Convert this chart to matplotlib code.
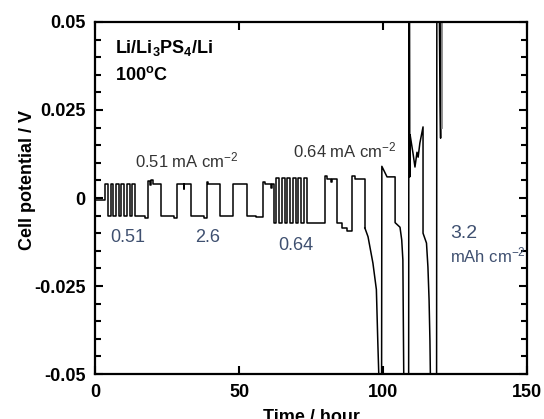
import matplotlib
matplotlib.use("Agg")
import matplotlib.pyplot as plt
from matplotlib.ticker import MultipleLocator

plt.rcParams['font.family'] = ['Liberation Sans', 'DejaVu Sans']
plt.rcParams['mathtext.fontset'] = 'custom'
plt.rcParams['mathtext.rm'] = 'Liberation Sans'
plt.rcParams['mathtext.bf'] = 'Liberation Sans:bold'
plt.rcParams['mathtext.default'] = 'regular'

# square-wave part of the trace (step-post: value holds until the next time)
sq_t = [0, 3.5, 4.4, 5.4, 6.3, 7.3, 8.2, 9.2, 10.1, 11.1, 12.0, 13.0, 13.9, 17.2,
        18.5, 19.0, 19.6, 20.2, 22.8, 27.3, 28.4, 30.8, 31.0, 33.3, 37.8,
        38.8, 39.3, 43.4, 47.9, 52.7, 56.0, 58.3, 59.0, 61.2, 61.4,
        62.2, 63.0, 63.95, 64.9, 65.85, 66.8, 67.75, 68.7, 69.65, 70.6, 71.55, 72.5, 73.5,
        79.9, 80.5, 82.0, 82.2, 84.0, 85.8, 87.5, 89.3, 90.3, 93.7]
sq_v = [-0.0005, 0.004, -0.005, 0.004, -0.005, 0.004, -0.005, 0.004, -0.005, 0.004, -0.005, 0.004, -0.005, -0.0058,
        0.0048, 0.0038, 0.005, 0.004, -0.005, -0.0058, 0.004, 0.0025, 0.004, -0.005, -0.0056,
        0.0045, 0.004, -0.005, 0.004, -0.005, -0.0055, 0.0045, 0.004, 0.0028, 0.004,
        -0.007, 0.0057, -0.007, 0.0057, -0.007, 0.0057, -0.007, 0.0057, -0.007, 0.0057, -0.007, 0.0057, -0.007,
        0.0062, 0.0055, 0.0045, 0.0055, -0.007, -0.0085, -0.0095, 0.0062, 0.0055, -0.0085]

# failure region (polarisation / short circuits)
fail_t = [93.7, 94.8, 96.5, 97.7, 98.2, 98.9, 99.5, 99.6, 100.2, 101.4, 104.2, 104.2,
          105.9, 106.5, 106.9, 107.0, 107.3, 108.9, 109.0, 109.2, 109.3, 109.4, 110.4,
          111.1, 111.8, 112.2, 112.8, 113.9, 113.9, 115.1, 115.6, 116.0, 116.3, 116.6,
          118.6, 118.7, 119.5, 119.8, 120.0, 120.2]
fail_v = [-0.0085, -0.011, -0.0185, -0.026, -0.041, -0.06, -0.06, 0.009, 0.008, 0.006, 0.006, -0.007,
          -0.0083, -0.0119, -0.0176, -0.029, -0.06, -0.06, 0.06, 0.06, 0.006, 0.018, 0.0128,
          0.0088, 0.013, 0.0116, 0.0156, 0.0202, -0.010, -0.0128, -0.0196, -0.029, -0.0406, -0.06,
          -0.06, 0.06, 0.06, 0.027, 0.017, 0.06]

gray_t = [120.5, 120.5]
gray_v = [0.06, 0.020]

fig = plt.figure(figsize=(5.44, 4.19), dpi=100)
ax = fig.add_axes([95 / 544, 45 / 419, 432 / 544, 352 / 419])

ax.plot(sq_t, sq_v, color='black', lw=1.1, drawstyle='steps-post')
ax.plot(fail_t, fail_v, color='black', lw=1.1)
ax.plot(gray_t, gray_v, color='#888888', lw=1.3)

ax.set_xlim(0, 150)
ax.set_ylim(-0.05, 0.05)
ax.set_xticks([0, 50, 100, 150])
ax.set_yticks([-0.05, -0.025, 0, 0.025, 0.05])
ax.set_yticklabels(['-0.05', '-0.025', '0', '0.025', '0.05'])
ax.yaxis.set_minor_locator(MultipleLocator(0.005))
ax.tick_params(which='both', direction='in', top=True, right=True, width=1.5)
ax.tick_params(which='major', length=6, labelsize=13, pad=7)
ax.tick_params(which='minor', length=4)
for lab in ax.get_xticklabels() + ax.get_yticklabels():
    lab.set_fontweight('bold')
for sp in ax.spines.values():
    sp.set_linewidth(1.6)

ax.set_ylabel('Cell potential / V', fontsize=13, fontweight='bold')
ax.yaxis.set_label_coords(-0.137, 0.55)
fig.text(0.573, 10 / 419, 'Time / hour', fontsize=13, fontweight='bold', ha='center', va='top')

ax.text(6.9, 0.0412, r'Li/Li$_\mathbf{3}$PS$_\mathbf{4}$/Li', fontsize=13, fontweight='bold')
ax.text(6.9, 0.0335, r'100$^\mathbf{o}$C', fontsize=13, fontweight='bold')

ax.text(13.9, 0.0088, r'0.51 mA cm$^{-2}$', fontsize=12, color='#333333')
ax.text(68.7, 0.0114, r'0.64 mA cm$^{-2}$', fontsize=12, color='#333333')

blue = '#3f5070'
ax.text(5.2, -0.0125, '0.51', fontsize=13, color=blue)
ax.text(34.7, -0.0125, '2.6', fontsize=13, color=blue)
ax.text(63.5, -0.0148, '0.64', fontsize=13, color=blue)
ax.text(123.3, -0.0114, '3.2', fontsize=14, color=blue)
ax.text(123.3, -0.0182, r'mAh cm$^{-2}$', fontsize=12, color=blue)

fig.savefig('out.png', dpi=100)
